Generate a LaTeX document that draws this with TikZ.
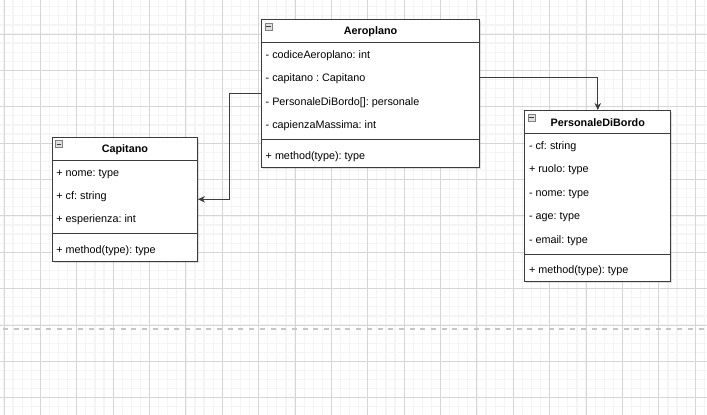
\documentclass[tikz,border=0pt]{standalone}
\usepackage{fontspec}
\setmainfont{Liberation Sans}
\usetikzlibrary{arrows.meta,calc,shadows}
\definecolor{gridmin}{HTML}{F4F4F4}
\definecolor{gridmaj}{HTML}{D6D6D6}
\definecolor{bordo}{HTML}{3C3C3C}
\frenchspacing
\tikzset{
  classe/.style={draw=bordo,fill=white,line width=1pt,anchor=north west,inner sep=0pt,
    drop shadow={shadow xshift=1.5pt,shadow yshift=-1.5pt,opacity=0.25}},
  titolo/.style={font=\fontsize{10.8}{13}\selectfont\bfseries,inner sep=0pt},
  riga/.style={anchor=west,inner sep=0pt,text height=7.8pt,text depth=2.2pt},
  linea/.style={draw=bordo,line width=1pt},
  icona/.style={draw=gray,fill=gray!25,line width=0.5pt,minimum size=7pt,inner sep=0pt,anchor=north west},
  freccia/.style={draw=bordo,line width=1pt,-{Stealth[length=7pt,width=6.5pt]}}
}
\begin{document}
\begin{tikzpicture}[x=1pt,y=-1pt,font=\fontsize{10.8}{13}\selectfont]
  \pgfmathsetmacro{\passo}{36.38}
  \pgfmathsetmacro{\passomin}{\passo/4}
  \pgfmathsetmacro{\hr}{23.4}
  \pgfmathsetmacro{\hsep}{7.2}
  \pgfmathsetmacro{\dy}{1.5}
  \useasboundingbox (0,0) rectangle (707,415);
  \fill[white] (0,0) rectangle (707,415);
  \begin{scope}
    \clip (0,0) rectangle (707,415);
    \foreach \k in {0,...,77} \draw[gridmin,line width=1.2pt] (4+\k*\passomin,0) -- (4+\k*\passomin,415);
    \foreach \k in {1,...,46} \draw[gridmin,line width=1.2pt] (0,-2.38+\k*\passomin) -- (707,-2.38+\k*\passomin);
    \foreach \k in {0,...,19} \draw[gridmaj,line width=1pt] (4+\k*\passo,0) -- (4+\k*\passo,415);
    \foreach \k in {1,...,11} \draw[gridmaj,line width=1pt] (0,-2.38+\k*\passo) -- (707,-2.38+\k*\passo);
  \end{scope}
  \draw[gray!45,line width=1.7pt,dash pattern=on 5pt off 5.7pt] (3,329) -- (707,329);

  \node[classe,minimum width=218,minimum height=147.6] (aero) at (261,19) {};
  \node[classe,minimum width=145.3,minimum height=124.2] (capi) at (51.7,136.7) {};
  \node[classe,minimum width=146,minimum height=171] (pers) at (524.3,110) {};
  \foreach \c in {aero,capi,pers} {
    \node[icona] (\c-ico) at ($(\c.north west)+(3.5,3.5)$) {};
    \draw[bordo,line width=0.8pt] ([xshift=1.5pt]\c-ico.west) -- ([xshift=-1.5pt]\c-ico.east);
    \draw[linea] ($(\c.north west)+(0,\hr)$) -- ($(\c.north east)+(0,\hr)$);
  }

  \node[titolo] (aero-tit) at ($(aero.north)+(0,\hr/2+1)$) {Aeroplano};
  \foreach \t [count=\i] in {{- codiceAeroplano: int},{- capitano : Capitano},{- PersonaleDiBordo[]: personale},{- capienzaMassima: int}}
    \node[riga] (aero-\i) at ($(aero.north west)+(4.5,\hr*\i+\hr/2+\dy)$) {\t};
  \draw[linea] ($(aero.north west)+(0,5*\hr+\hsep/2)$) -- ($(aero.north east)+(0,5*\hr+\hsep/2)$);
  \node[riga] (aero-met) at ($(aero.north west)+(4.5,5*\hr+\hsep+\hr/2+\dy)$) {+ method(type): type};

  \node[titolo] (capi-tit) at ($(capi.north)+(0,\hr/2+1)$) {Capitano};
  \foreach \t [count=\i] in {{+ nome: type},{+ cf: string},{+ esperienza: int}}
    \node[riga] (capi-\i) at ($(capi.north west)+(4.5,\hr*\i+\hr/2+\dy)$) {\t};
  \draw[linea] ($(capi.north west)+(0,4*\hr+\hsep/2)$) -- ($(capi.north east)+(0,4*\hr+\hsep/2)$);
  \node[riga] (capi-met) at ($(capi.north west)+(4.5,4*\hr+\hsep+\hr/2+\dy)$) {+ method(type): type};

  \node[titolo] (pers-tit) at ($(pers.north)+(0,\hr/2+1)$) {PersonaleDiBordo};
  \foreach \t [count=\i] in {{- cf: string},{+ ruolo: type},{- nome: type},{- age: type},{- email: type}}
    \node[riga] (pers-\i) at ($(pers.north west)+(4.5,\hr*\i+\hr/2+\dy)$) {\t};
  \draw[linea] ($(pers.north west)+(0,6*\hr+\hsep/2)$) -- ($(pers.north east)+(0,6*\hr+\hsep/2)$);
  \node[riga] (pers-met) at ($(pers.north west)+(4.5,6*\hr+\hsep+\hr/2+\dy)$) {+ method(type): type};

  \draw[freccia] (aero.west) -| ($(aero.west)!0.5!(capi.east)$) |- (capi.east);
  \draw[freccia] ([yshift=\dy pt]aero-2 -| aero.east) -| (pers.north);
\end{tikzpicture}
\end{document}
